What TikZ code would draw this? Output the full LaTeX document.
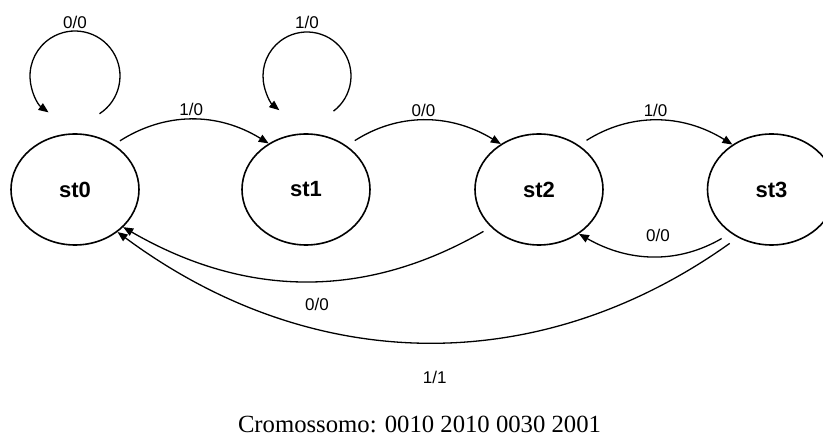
\documentclass[tikz,border=0pt]{standalone}
\usepackage{fontspec}
\setmainfont{Liberation Serif}
\newfontfamily\arial{Liberation Sans}
\usetikzlibrary{shapes.geometric,arrows.meta,calc}

\tikzset{
  stato/.style={ellipse, draw, line width=1.6pt, inner sep=0pt,
    minimum width=128pt, minimum height=111pt,
    font=\arial\fontsize{22}{26}\selectfont\bfseries},
  trans/.style={line width=1.3pt, -{Triangle[length=10pt,width=8pt]}},
  etich/.style={font=\arial\fontsize{17}{20}\selectfont, inner sep=2pt},
}

\begin{document}
\begin{tikzpicture}[x=1pt, y=1pt]
  \useasboundingbox (0,0) rectangle (823,-438);
  \clip (0,0) rectangle (823,-438);

  % Stati
  \node[stato] (st0) at (75,-189.5)   {st0};
  \node[stato] (st1) at (306,-189.5)  {st1};
  \node[stato] (st2) at (539,-189.5)  {st2};
  \node[stato] (st3) at (771.5,-189.5) {st3};

  % Anelli su st0 e st1
  \coordinate (c0) at ($(st0)+(0,113.5)$);
  \coordinate (c1) at ($(st1)+(1,113.5)$);
  \draw[trans] ($(c0)+(-57:45)$) arc[start angle=-57, end angle=234, radius=45];
  \draw[trans] ($(c1)+(-53:44)$) arc[start angle=-53, end angle=231, radius=44];
  \node[etich] (e00) at ($(c0)+(0,54)$) {0/0};
  \node[etich] (e11) at ($(c1)+(0,54)$) {1/0};

  % Transizioni in avanti
  \draw[trans, shorten <=7pt] (st0.49) to[bend left=32]
    node[etich, above=2pt] (e01) {1/0} (st1.129);
  \draw[trans, shorten <=9.5pt] (st1.47) to[bend left=32]
    node[etich, above=2pt] (e12) {0/0} (st2.130);
  \draw[trans, shorten <=9pt] (st2.48) to[bend left=32]
    node[etich, above=2pt] (e23) {1/0} (st3.131);

  % Transizioni di ritorno
  \draw[trans, shorten <=10.5pt] (st3.227) to[bend left=30]
    node[etich, above=12pt, xshift=3pt] (e32) {0/0} (st2.312);
  \draw[trans, shorten <=8.5pt] (st2.218) to[bend left=30]
    node[etich, below=15pt, xshift=10pt] (e20) {0/0} (st0.322);
  \draw[trans, shorten <=10pt] (st3.235) to[bend left=36]
    node[etich, below=27pt, xshift=8pt] (e30) {1/1} (st0.315);

  % Cromossomo
  \node[font=\fontsize{24.7}{29}\selectfont, anchor=base, inner sep=0pt]
    (crom) at (419.5,-433) {Cromossomo: 0010 2010 0030 2001};
\end{tikzpicture}
\end{document}
